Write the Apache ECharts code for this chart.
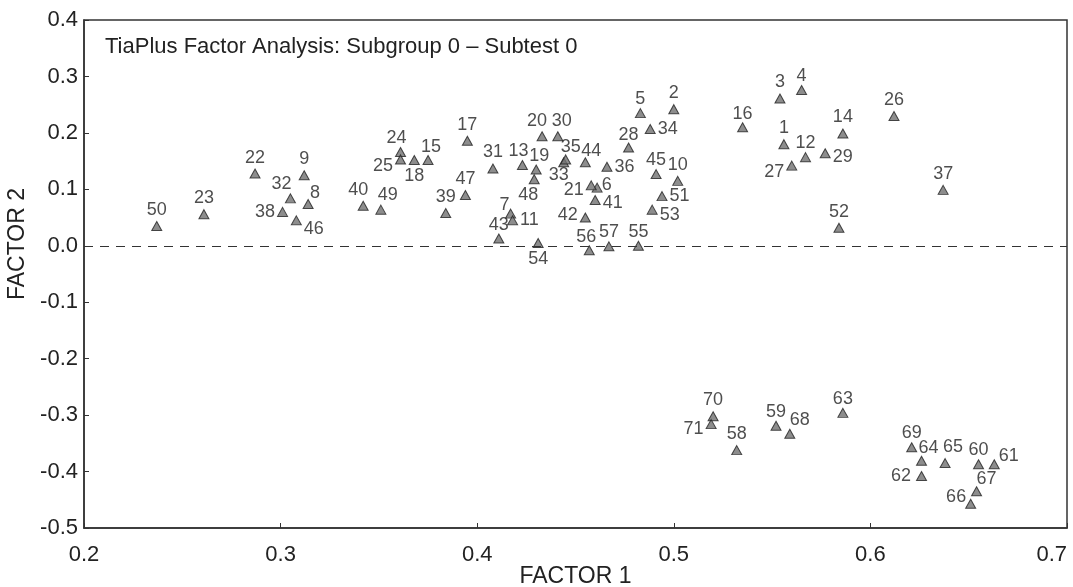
<!DOCTYPE html>
<html>
<head>
<meta charset="utf-8">
<script src="https://cdn.jsdelivr.net/npm/echarts@6/dist/echarts.min.js"></script>
<style>
  html, body { margin: 0; padding: 0; background: #fff; }
  #chart { width: 1073px; height: 587px; }
</style>
</head>
<body>
<div id="chart"></div>
<script>
// item numbers and their loadings on the two factors
const items = [
  1, 2, 3, 4, 5, 6, 7, 8, 9, 10,
  11, 12, 13, 14, 15, 16, 17, 18, 19, 20,
  21, 22, 23, 24, 25, 26, 27, 28, 29, 30,
  31, 32, 33, 34, 35, 36, 37, 38, 39, 40,
  41, 42, 43, 44, 45, 46, 47, 48, 49, 50,
  51, 52, 53, 54, 55, 56, 57, 58, 59, 60,
  61, 62, 63, 64, 65, 66, 67, 68, 69, 70, 71
];
const factor1 = [
  0.556, 0.500, 0.554, 0.565, 0.483, 0.461, 0.417, 0.314, 0.312, 0.502,
  0.418, 0.567, 0.423, 0.586, 0.375, 0.535, 0.395, 0.368, 0.430, 0.433,
  0.458, 0.287, 0.261, 0.361, 0.361, 0.612, 0.560, 0.477, 0.577, 0.441,
  0.408, 0.305, 0.444, 0.488, 0.445, 0.466, 0.637, 0.301, 0.384, 0.342,
  0.460, 0.455, 0.411, 0.455, 0.491, 0.308, 0.394, 0.429, 0.351, 0.237,
  0.494, 0.584, 0.489, 0.431, 0.482, 0.457, 0.467, 0.532, 0.552, 0.655,
  0.663, 0.626, 0.586, 0.626, 0.638, 0.651, 0.654, 0.559, 0.621, 0.520, 0.519
];
const factor2 = [
  0.180, 0.242, 0.261, 0.276, 0.235, 0.103, 0.057, 0.074, 0.125, 0.115,
  0.045, 0.157, 0.143, 0.199, 0.152, 0.210, 0.186, 0.152, 0.135, 0.194,
  0.107, 0.128, 0.056, 0.166, 0.153, 0.230, 0.142, 0.174, 0.164, 0.194,
  0.137, 0.084, 0.148, 0.207, 0.153, 0.140, 0.099, 0.060, 0.058, 0.071,
  0.081, 0.050, 0.013, 0.148, 0.127, 0.045, 0.090, 0.118, 0.064, 0.035,
  0.088, 0.032, 0.064, 0.005, 0.000, -0.008, -0.001, -0.362, -0.319, -0.387,
  -0.387, -0.408, -0.296, -0.381, -0.385, -0.457, -0.435, -0.333, -0.357, -0.302, -0.316
];

// where each item's number sits around its marker (default: above)
const labelPlace = {
  32: ['top', -9, 2], 38: ['left', 0, 0], 8: ['top', 7, 5], 46: ['right', 0, 9],
  49: ['top', 7, 1], 15: ['top', 3, 3], 24: ['top', -4, 2], 25: ['left', 0, 7],
  18: ['bottom', 0, 0], 40: ['top', -5, 0], 43: ['top', 0, 3], 7: ['top', -6, 7],
  11: ['right', 0, 0], 13: ['top', -4, 2], 19: ['top', 3, 2], 48: ['bottom', -6, 0],
  54: ['bottom', 0, 0], 20: ['top', -5, 1], 30: ['top', 4, 1], 35: ['top', 5, 4],
  33: ['bottom', -5, -3], 44: ['top', 6, 5], 36: ['right', 0, 0], 21: ['left', 0, 5],
  6: ['right', -3, -3], 41: ['right', 0, 3], 42: ['left', 0, -3], 56: ['top', -3, 3],
  57: ['top', 0, 2], 55: ['top', 0, 2], 28: ['top', 0, 3], 5: ['top', 0, 2],
  34: ['right', 0, 0], 45: ['top', 0, 2], 51: ['right', 0, 0], 53: ['right', 0, 5],
  16: ['top', 0, 3], 4: ['top', 0, 2], 12: ['top', 0, 2], 27: ['left', 0, 6],
  29: ['right', 0, 4], 71: ['left', 0, 5], 59: ['top', 0, 2], 68: ['top', 10, 2],
  63: ['top', 0, 2], 69: ['top', 0, 2], 64: ['top', 7, 3], 62: ['left', -3, 0],
  65: ['top', 8, 0], 60: ['top', 0, 2], 61: ['right', -3, -8], 67: ['top', 10, 4],
  66: ['left', 3, -7]
};

const pts = items.map((id, i) => {
  const p = labelPlace[id] || ['top', 0, 0];
  return {
    value: [factor1[i], factor2[i]],
    name: String(id),
    label: { position: p[0], offset: [p[1], p[2]] }
  };
});

const chart = echarts.init(document.getElementById('chart'));
const font = 'Liberation Sans, Arial, sans-serif';

chart.setOption({
  animation: false,
  title: {
    text: 'TiaPlus Factor Analysis: Subgroup 0 \u2013 Subtest 0',
    left: 100,
    top: 31,
    textStyle: { fontFamily: font, fontSize: 22, fontWeight: 'normal', color: '#222' }
  },
  grid: {
    left: 84, top: 20, right: 6, bottom: 59,
    outerBoundsMode: 'none',
    containLabel: false,
    show: true, borderColor: '#333', borderWidth: 1.5
  },
  xAxis: {
    type: 'value',
    min: 0.2, max: 0.7, interval: 0.1,
    name: 'FACTOR 1',
    nameLocation: 'middle',
    nameGap: 37,
    nameMoveOverlap: false,
    nameTextStyle: { fontFamily: font, fontSize: 23, color: '#222' },
    splitLine: { show: false },
    axisLine: { onZero: false, lineStyle: { color: '#333', width: 1.5 } },
    axisTick: { inside: true, length: 5, lineStyle: { color: '#333' } },
    axisLabel: {
      fontFamily: font, fontSize: 22, color: '#222', margin: 16,
      alignMaxLabel: 'right',
      formatter: v => v.toFixed(1)
    }
  },
  yAxis: {
    type: 'value',
    min: -0.5, max: 0.4, interval: 0.1,
    name: 'FACTOR 2',
    nameLocation: 'middle',
    nameRotate: 90,
    nameGap: 50,
    nameTextStyle: { fontFamily: font, fontSize: 23, color: '#222', padding: [0, 0, 0, 60] },
    splitLine: { show: false },
    axisLine: { onZero: false, lineStyle: { color: '#333', width: 1.5 } },
    axisTick: { inside: true, length: 5, lineStyle: { color: '#333' } },
    axisLabel: {
      fontFamily: font, fontSize: 22, color: '#222', margin: 6,
      formatter: v => v.toFixed(1)
    }
  },
  series: [{
    type: 'scatter',
    data: pts,
    symbol: 'triangle',
    symbolSize: [10, 9],
    itemStyle: { color: '#707070', borderColor: '#222', borderWidth: 1 },
    label: {
      show: true,
      formatter: '{b}',
      distance: 2,
      fontFamily: font,
      fontSize: 18,
      color: '#222'
    },
    emphasis: { disabled: true },
    markLine: {
      silent: true,
      symbol: 'none',
      label: { show: false },
      lineStyle: { color: '#333', type: [9, 7], width: 1.2 },
      data: [{ yAxis: 0 }]
    }
  }]
});
</script>
</body>
</html>
